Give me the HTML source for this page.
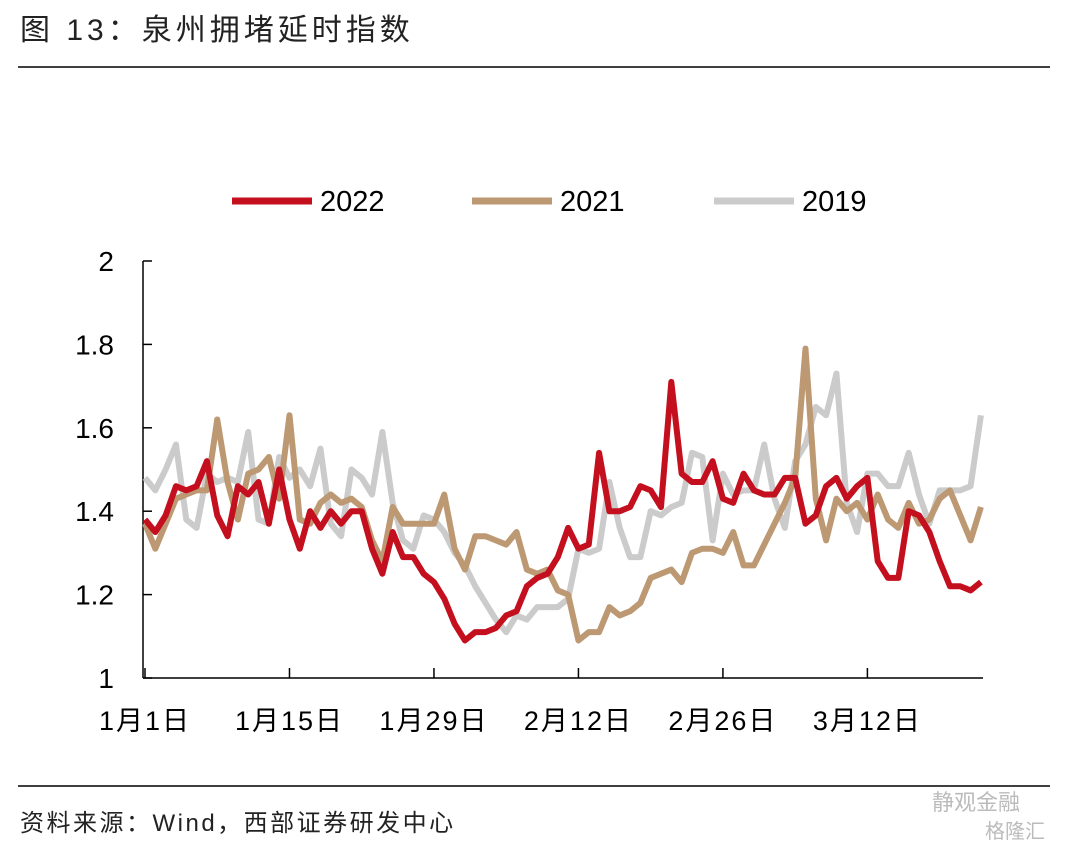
<!DOCTYPE html>
<html><head><meta charset="utf-8"><style>
body{margin:0;background:#fff;width:1071px;height:850px;overflow:hidden;font-family:"Liberation Sans","Noto Sans CJK SC",sans-serif;}
svg text{font-family:"Liberation Sans","Noto Sans CJK SC",sans-serif;}
</style></head><body>
<svg id="c" width="1071" height="850">
<text x="20" y="40" font-size="30" letter-spacing="4" fill="#222">图 13：泉州拥堵延时指数</text>
<line x1="18" y1="67" x2="1050" y2="67" stroke="#000" stroke-width="1.5"/>
<line x1="18" y1="786" x2="1050" y2="786" stroke="#000" stroke-width="1.5"/>
<text x="20" y="831" font-size="24" letter-spacing="2.5" fill="#222">资料来源：Wind，西部证券研发中心</text>
<text x="932" y="810" font-size="22" fill="#bbb">静观金融</text>
<text x="985" y="838" font-size="20" fill="#bbb">格隆汇</text>
<g id="legend"></g>
<g id="axes"></g>
<g id="plot"></g>
</svg>
<script>
const seriesNames=["2022","2021","2019"];
const s2022=[1.38,1.35,1.39,1.46,1.45,1.46,1.52,1.39,1.34,1.46,1.44,1.47,1.37,1.50,1.38,1.31,1.40,1.36,1.40,1.37,1.40,1.40,1.31,1.25,1.35,1.29,1.29,1.25,1.23,1.19,1.13,1.09,1.11,1.11,1.12,1.15,1.16,1.22,1.24,1.25,1.29,1.36,1.31,1.32,1.54,1.40,1.40,1.41,1.46,1.45,1.41,1.71,1.49,1.47,1.47,1.52,1.43,1.42,1.49,1.45,1.44,1.44,1.48,1.48,1.37,1.39,1.46,1.48,1.43,1.46,1.48,1.28,1.24,1.24,1.40,1.39,1.35,1.28,1.22,1.22,1.21,1.23];
const s2021=[1.37,1.31,1.37,1.43,1.44,1.45,1.45,1.62,1.47,1.38,1.49,1.50,1.53,1.43,1.63,1.38,1.37,1.42,1.44,1.42,1.43,1.41,1.33,1.28,1.41,1.37,1.37,1.37,1.37,1.44,1.31,1.26,1.34,1.34,1.33,1.32,1.35,1.26,1.25,1.26,1.21,1.20,1.09,1.11,1.11,1.17,1.15,1.16,1.18,1.24,1.25,1.26,1.23,1.30,1.31,1.31,1.30,1.35,1.27,1.27,1.32,1.37,1.42,1.48,1.79,1.43,1.33,1.43,1.40,1.42,1.38,1.44,1.38,1.36,1.42,1.37,1.38,1.43,1.45,1.39,1.33,1.41];
const s2019=[1.48,1.45,1.50,1.56,1.38,1.36,1.49,1.47,1.48,1.47,1.59,1.38,1.37,1.53,1.48,1.50,1.46,1.55,1.37,1.34,1.50,1.48,1.44,1.59,1.42,1.33,1.31,1.39,1.38,1.35,1.30,1.27,1.22,1.18,1.14,1.11,1.15,1.14,1.17,1.17,1.17,1.19,1.31,1.30,1.31,1.47,1.36,1.29,1.29,1.40,1.39,1.41,1.42,1.54,1.53,1.33,1.49,1.44,1.45,1.45,1.56,1.43,1.36,1.52,1.56,1.65,1.63,1.73,1.42,1.35,1.49,1.49,1.46,1.46,1.54,1.44,1.37,1.45,1.45,1.45,1.46,1.63];
const yTicks=[1,1.2,1.4,1.6,1.8,2];
const yTickLabels=["1","1.2","1.4","1.6","1.8","2"];
const xTickIdx=[0,14,28,42,56,70];
const xTickLabels=["1月1日","1月15日","1月29日","2月12日","2月26日","3月12日"];
const colors=["#c40f1e","#bc9873","#cbcbcb"];
const X0=143,DX=10.32,Y0=678,Y1=261;
const xs=i=>X0+2+i*DX;
const ys=v=>Y0-(v-1)*(Y0-Y1);
const NS="http://www.w3.org/2000/svg";
function mk(t,a,p){const e=document.createElementNS(NS,t);for(const k in a)e.setAttribute(k,a[k]);p.appendChild(e);return e;}
const axes=document.getElementById('axes'),plot=document.getElementById('plot'),leg=document.getElementById('legend');
const ya=mk('line',{x1:X0,y1:Y1,x2:X0,y2:Y0,stroke:'#000','stroke-width':1.5},axes);


const xa=mk('line',{x1:X0,y1:Y0,x2:983,y2:Y0,stroke:'#000','stroke-width':1.5},axes);


yTicks.forEach((v,k)=>{
  const t=mk('line',{x1:X0,y1:ys(v),x2:X0+9,y2:ys(v),stroke:'#000','stroke-width':1.5},axes);
  
  
  const l=mk('text',{x:114,y:ys(v)+10,'text-anchor':'end','font-size':28,fill:'#000'},axes);
  l.textContent=yTickLabels[k];
  
  
});
xTickIdx.forEach((i,k)=>{
  const t=mk('line',{x1:xs(i),y1:Y0,x2:xs(i),y2:Y0-10,stroke:'#000','stroke-width':1.5},axes);
  
  
  const l=mk('text',{x:xs(i),y:Y0+52,'text-anchor':'middle','font-size':27,'letter-spacing':2,fill:'#000'},axes);
  l.textContent=xTickLabels[k];
  
  
});
[s2019,s2021,s2022].forEach((s,j)=>{
  const ci=2-j;
  const p=mk('polyline',{points:s.map((v,i)=>xs(i)+','+ys(v)).join(' '),fill:'none',stroke:colors[ci],'stroke-width':6,'stroke-linejoin':'round'},plot);
  
  
});
const lx=[232,472,714];
seriesNames.forEach((n,k)=>{
  const l=mk('line',{x1:lx[k],y1:201,x2:lx[k]+80,y2:201,stroke:colors[k],'stroke-width':7},leg);
  
  
  const t=mk('text',{x:lx[k]+88,y:211,'font-size':29,fill:'#000'},leg);
  t.textContent=n;
  
  
});
</script>
</body></html>
